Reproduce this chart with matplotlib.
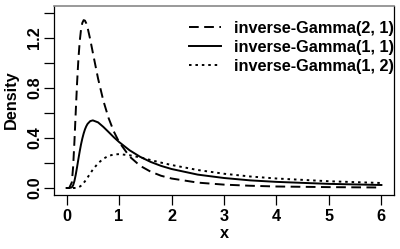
import matplotlib
matplotlib.use("Agg")
import matplotlib.pyplot as plt

x = [0.0, 0.05, 0.1, 0.125, 0.15, 0.175, 0.2, 0.225, 0.25, 0.275, 0.3, 0.325,
     0.35, 0.375, 0.4, 0.45, 0.5, 0.6, 0.7, 0.8, 0.9, 1.0, 1.2, 1.4, 1.6, 1.8,
     2.0, 2.5, 3.0, 3.5, 4.0, 5.0, 6.0]
ig_2_1 = [0.0, 0.0, 0.045, 0.172, 0.377, 0.615, 0.842, 1.031, 1.172, 1.268, 1.321, 1.343,
          1.339, 1.317, 1.283, 1.189, 1.083, 0.875, 0.699, 0.560, 0.452, 0.368, 0.252, 0.178,
          0.131, 0.098, 0.076, 0.043, 0.027, 0.018, 0.012, 0.007, 0.004]
ig_1_1 = [0.0, 0.0, 0.005, 0.022, 0.057, 0.108, 0.168, 0.232, 0.293, 0.349, 0.396, 0.436,
          0.469, 0.494, 0.513, 0.535, 0.541, 0.525, 0.489, 0.448, 0.406, 0.368, 0.302, 0.250,
          0.209, 0.177, 0.152, 0.107, 0.080, 0.061, 0.049, 0.033, 0.024]
ig_1_2 = [0.0, 0.0, 0.0, 0.0, 0.0001, 0.0007, 0.0023, 0.0054, 0.0107, 0.0184, 0.0283, 0.0402,
          0.0538, 0.0687, 0.084, 0.116, 0.147, 0.198, 0.234, 0.257, 0.268, 0.271, 0.262, 0.245,
          0.224, 0.203, 0.184, 0.144, 0.114, 0.092, 0.076, 0.054, 0.040]
labels = ["inverse-Gamma(2, 1)", "inverse-Gamma(1, 1)", "inverse-Gamma(1, 2)"]
xticks = [0, 1, 2, 3, 4, 5, 6]
yticks = [0.0, 0.2, 0.4, 0.6, 0.8, 1.0, 1.2, 1.4]
ytick_labels = ["0.0", "", "0.4", "", "0.8", "", "1.2", ""]

plt.rcParams['font.family'] = ['Liberation Sans', 'DejaVu Sans']
plt.rcParams['font.weight'] = 'bold'
fs = 11.7

fig = plt.figure(figsize=(4.0, 2.49), dpi=100)
ax = fig.add_axes([54/400, 1 - 195/249, (394-54)/400, (195-6)/249])

lw = 1.4
ax.plot(x, ig_2_1, color='black', lw=lw, linestyle=(0, (5, 2.8)), label=labels[0])
ax.plot(x, ig_1_1, color='black', lw=lw, linestyle='-', label=labels[1])
ax.plot(x, ig_1_2, color='black', lw=lw, linestyle=(0, (1.3, 2.0)), label=labels[2])

ax.set_xlim(-0.24, 6.24)
ax.set_ylim(-0.056, 1.456)

ax.set_xticks(xticks)
ax.set_xticklabels([str(t) for t in xticks], fontsize=fs, fontweight='bold')
ax.set_yticks(yticks)
ax.set_yticklabels(ytick_labels, fontsize=fs, fontweight='bold', rotation=90, va='center')
ax.tick_params(axis='both', length=7, width=0.9, color='black', pad=3)
ax.tick_params(axis='y', pad=1.5)

for s in ['left', 'bottom', 'right']:
    ax.spines[s].set_color('black')
    ax.spines[s].set_linewidth(0.9)
ax.spines['top'].set_color('#888888')
ax.spines['top'].set_linewidth(1.2)

leg = ax.legend(loc='upper right', frameon=False, prop={'weight': 'bold', 'size': fs},
                handlelength=2.0, handletextpad=0.8, borderaxespad=0.0, labelspacing=0.25,
                bbox_to_anchor=(1.02, 0.955))

fig.text(11/400, 1 - 100/249, "Density", rotation=90, ha='center', va='center',
         fontsize=fs, fontweight='bold')
fig.text(224/400, 1 - 233/249, "x", ha='center', va='center', fontsize=fs, fontweight='bold')

fig.savefig("out.png", dpi=100)
